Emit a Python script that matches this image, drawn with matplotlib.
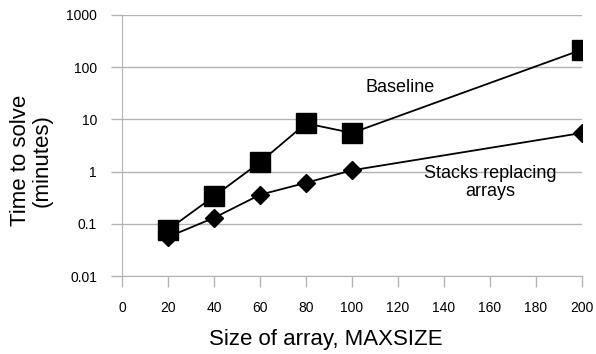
import numpy as np
import matplotlib
matplotlib.use('Agg')
import matplotlib.pyplot as plt

plt.rcParams['font.family'] = ['Liberation Sans', 'DejaVu Sans']

# Data
sizes = [20, 40, 60, 80, 100, 200]
baseline = [0.077, 0.336, 1.51, 8.4, 5.5, 217]
stacks = [0.056, 0.13, 0.36, 0.61, 1.06, 5.5]

x_ticks = [0, 20, 40, 60, 80, 100, 120, 140, 160, 180, 200]
y_ticks = [0.01, 0.1, 1, 10, 100, 1000]
y_labels = ['0.01', '0.1', '1', '10', '100', '1000']

fig = plt.figure(figsize=(5.96, 3.54), dpi=100)
ax = fig.add_axes([122 / 596, 1 - 276 / 354, 460 / 596, 261 / 354])

ax.plot(sizes, baseline, color='black', lw=1.3, marker='s', markersize=14,
        zorder=3)
ax.plot(sizes, stacks, color='black', lw=1.3, marker='D', markersize=9.5,
        zorder=3)

ax.set_yscale('log')
ax.set_ylim(0.01, 1000)
ax.set_xlim(0, 200)
ax.set_xticks(x_ticks)
ax.set_yticks(y_ticks)
ax.set_yticklabels(y_labels)
ax.minorticks_off()
ax.tick_params(axis='both', labelsize=10, length=8, color='#b3b3b3',
               width=1, pad=10)
ax.tick_params(axis='x', pad=10)
ax.grid(axis='y', color='#b3b3b3', lw=1)
ax.set_axisbelow(True)
for s in ['top', 'right']:
    ax.spines[s].set_visible(False)
for s in ['left', 'bottom']:
    ax.spines[s].set_color('#b3b3b3')

ax.text(121, 40, 'Baseline', fontsize=13, ha='center', va='center')
ax.text(160, 0.61, 'Stacks replacing\narrays', fontsize=13, ha='center',
        va='center', linespacing=1.05)

ax.set_xlabel('Size of array, MAXSIZE', fontsize=16)
ax.xaxis.set_label_coords(0.443, -0.245)
ax.xaxis.label.set_va('center')
ax.set_ylabel('Time to solve\n(minutes)', fontsize=16, linespacing=1.05)
ax.yaxis.set_label_coords(-0.198, 0.444)
ax.yaxis.label.set_va('center')

fig.savefig('out.png', dpi=100)
